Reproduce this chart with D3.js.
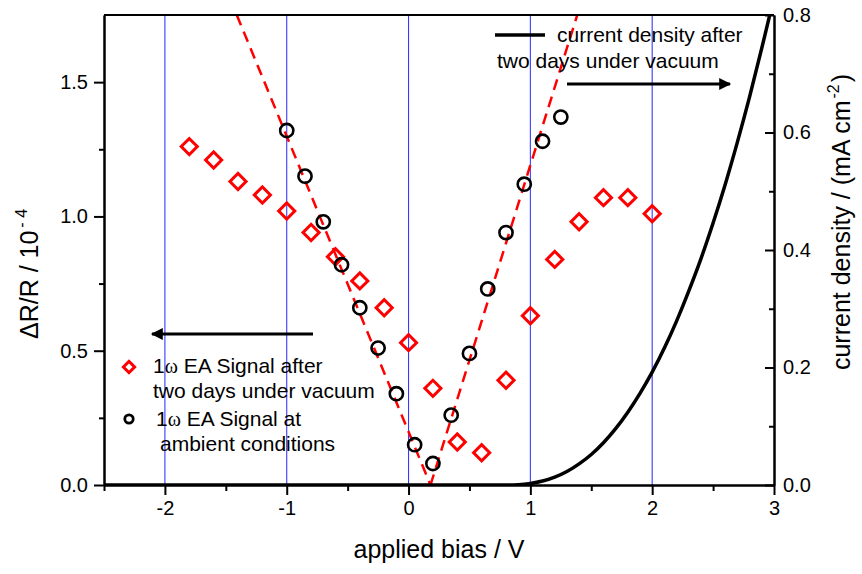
<!DOCTYPE html>
<html>
<head>
<meta charset="utf-8">
<script src="https://cdn.jsdelivr.net/npm/d3@7"></script>
<style>
  body { margin: 0; background: #fff; }
  text { font-family: "Liberation Sans", Arial, sans-serif; fill: #000; }
</style>
</head>
<body>
<svg id="chart" width="862" height="574"></svg>
<script>
// 1ω electroabsorption signal after two days under vacuum (left axis, 10^-4)
const biasVacuum   = [-1.8, -1.6, -1.4, -1.2, -1.0, -0.8, -0.6, -0.4, -0.2, 0.0, 0.2, 0.4, 0.6, 0.8, 1.0, 1.2, 1.4, 1.6, 1.8, 2.0];
const signalVacuum = [1.26, 1.21, 1.13, 1.08, 1.02, 0.94, 0.85, 0.76, 0.66, 0.53, 0.36, 0.16, 0.12, 0.39, 0.63, 0.84, 0.98, 1.07, 1.07, 1.01];

// 1ω electroabsorption signal at ambient conditions (left axis, 10^-4)
const biasAmbient   = [-1.0, -0.85, -0.7, -0.55, -0.4, -0.25, -0.1, 0.05, 0.2, 0.35, 0.5, 0.65, 0.8, 0.95, 1.1, 1.25];
const signalAmbient = [1.32, 1.15, 0.98, 0.82, 0.66, 0.51, 0.34, 0.15, 0.08, 0.26, 0.49, 0.73, 0.94, 1.12, 1.28, 1.37];

// linear fits to the ambient signal on either side of the minimum
const fitLeftBias    = [-1.41, 0.18];
const fitLeftSignal  = [1.75, 0.0];
const fitRightBias   = [0.18, 1.385];
const fitRightSignal = [0.0, 1.75];

// current density after two days under vacuum (right axis, mA cm^-2)
const biasCurrent = [-2.5, 0.8, 0.9, 1.0, 1.1, 1.2, 1.3, 1.4, 1.5, 1.6, 1.7, 1.8, 1.9, 2.0, 2.1, 2.2, 2.3, 2.4, 2.5, 2.6, 2.7, 2.8, 2.9, 2.95, 3.0];
const current     = [0.0, 0.0, 0.0005, 0.0025, 0.0067, 0.0134, 0.023, 0.036, 0.052, 0.072, 0.096, 0.124, 0.156, 0.192, 0.233, 0.279, 0.33, 0.385, 0.446, 0.512, 0.584, 0.661, 0.744, 0.787, 0.83];

// tick values
const xMajorTicks = [-2, -1, 0, 1, 2, 3];
const xMinorTicks = [-2.5, -1.5, -0.5, 0.5, 1.5, 2.5];
const yLeftMajorTicks = [0.0, 0.5, 1.0, 1.5];
const yLeftMinorTicks = [0.25, 0.75, 1.25];
const yRightMajorTicks = [0.0, 0.2, 0.4, 0.6, 0.8];
const yRightMinorTicks = [0.1, 0.3, 0.5, 0.7];
const gridBias = [-2, -1, 0, 1, 2];

const svg = d3.select("#chart");
svg.append("rect").attr("width", 862).attr("height", 574).attr("fill", "#fff");

const L = 104, R = 774, T = 15, B = 485;
const x  = d3.scaleLinear().domain([-2.5, 3]).range([L, R]);
const yL = d3.scaleLinear().domain([0, 1.75]).range([B, T]);
const yR = d3.scaleLinear().domain([0, 0.8]).range([B, T]);

svg.append("defs").append("clipPath").attr("id", "plotClip")
  .append("rect").attr("x", L).attr("y", T).attr("width", R - L).attr("height", B - T);

// blue vertical grid lines
svg.append("g").selectAll("line").data(gridBias).join("line")
  .attr("x1", d => x(d)).attr("x2", d => x(d))
  .attr("y1", T).attr("y2", B)
  .attr("stroke", "#3a3aff").attr("stroke-width", 1.1);

const plot = svg.append("g").attr("clip-path", "url(#plotClip)");

// dashed fit lines
const fitLine = d3.line().x(d => x(d[0])).y(d => yL(d[1]));
[[fitLeftBias, fitLeftSignal], [fitRightBias, fitRightSignal]].forEach(([bx, sy]) => {
  plot.append("path")
    .datum(bx.map((b, i) => [b, sy[i]]))
    .attr("d", fitLine)
    .attr("fill", "none").attr("stroke", "#ff0000")
    .attr("stroke-width", 2.5).attr("stroke-dasharray", "11,7");
});

// current density curve
plot.append("path")
  .datum(biasCurrent.map((b, i) => [b, current[i]]))
  .attr("d", d3.line().curve(d3.curveMonotoneX).x(d => x(d[0])).y(d => yR(d[1])))
  .attr("fill", "none").attr("stroke", "#000").attr("stroke-width", 3.5);

// diamond markers (vacuum)
const diamond = d3.symbol(d3.symbolSquare, 130);
svg.append("g").selectAll("path").data(biasVacuum).join("path")
  .attr("d", diamond)
  .attr("transform", (d, i) => `translate(${x(d)},${yL(signalVacuum[i])}) rotate(45)`)
  .attr("fill", "none").attr("stroke", "#ff0000").attr("stroke-width", 3);

// circle markers (ambient)
svg.append("g").selectAll("circle").data(biasAmbient).join("circle")
  .attr("cx", d => x(d)).attr("cy", (d, i) => yL(signalAmbient[i]))
  .attr("r", 6.6)
  .attr("fill", "none").attr("stroke", "#000").attr("stroke-width", 2.6);

// axes
function styleAxis(g) {
  g.selectAll("path.domain").attr("stroke", "#000").attr("stroke-width", 2);
  g.selectAll(".tick line").attr("stroke", "#000").attr("stroke-width", 2);
  g.selectAll(".tick text").style("font-size", "20px")
    .style("font-family", '"Liberation Sans", Arial, sans-serif').attr("fill", "#000");
}

const xAxis = svg.append("g").attr("transform", `translate(0,${B})`)
  .call(d3.axisBottom(x).tickValues(xMajorTicks).tickSizeInner(10).tickSizeOuter(0)
    .tickPadding(6).tickFormat(d => String(d)));
styleAxis(xAxis);
const xMinor = svg.append("g").attr("transform", `translate(0,${B})`)
  .call(d3.axisBottom(x).tickValues(xMinorTicks).tickSizeInner(6).tickSizeOuter(0).tickFormat(""));
styleAxis(xMinor);

const yAxisL = svg.append("g").attr("transform", `translate(${L},0)`)
  .call(d3.axisLeft(yL).tickValues(yLeftMajorTicks).tickSizeInner(10).tickSizeOuter(0)
    .tickPadding(6).tickFormat(d3.format(".1f")));
styleAxis(yAxisL);
const yMinorL = svg.append("g").attr("transform", `translate(${L},0)`)
  .call(d3.axisLeft(yL).tickValues(yLeftMinorTicks).tickSizeInner(5).tickSizeOuter(0).tickFormat(""));
styleAxis(yMinorL);

const yAxisR = svg.append("g").attr("transform", `translate(${R},0)`)
  .call(d3.axisRight(yR).tickValues(yRightMajorTicks).tickSizeInner(-9).tickSizeOuter(0)
    .tickPadding(9).tickFormat(d3.format(".1f")));
styleAxis(yAxisR);
const yMinorR = svg.append("g").attr("transform", `translate(${R},0)`)
  .call(d3.axisRight(yR).tickValues(yRightMinorTicks).tickSizeInner(-5).tickSizeOuter(0).tickFormat(""));
styleAxis(yMinorR);

// top frame line
svg.append("line").attr("x1", L).attr("x2", R).attr("y1", T).attr("y2", T)
  .attr("stroke", "#000").attr("stroke-width", 2);

// axis titles
svg.append("text").attr("x", (L + R) / 2).attr("y", 558)
  .attr("text-anchor", "middle").style("font-size", "25px").text("applied bias / V");

const tL = svg.append("text").attr("transform", "translate(38,274) rotate(-90)")
  .attr("text-anchor", "middle").style("font-size", "25px");
tL.append("tspan").text("ΔR/R / 10");
tL.append("tspan").attr("dy", -11).attr("dx", 3).style("font-size", "16px").text("- 4");

const tR = svg.append("text").attr("transform", "translate(850,222) rotate(-90)")
  .attr("text-anchor", "middle").style("font-size", "25px");
tR.append("tspan").text("current density / (mA cm");
tR.append("tspan").attr("dy", -11).attr("dx", 2).style("font-size", "16px").text("-2");
tR.append("tspan").attr("dy", 11).attr("dx", 2).text(")");

// arrows pointing to the relevant axis
const defs = svg.select("defs");
defs.append("marker").attr("id", "arrowHead")
  .attr("viewBox", "0 0 10 10").attr("refX", 9).attr("refY", 5)
  .attr("markerWidth", 5).attr("markerHeight", 4).attr("markerUnits", "strokeWidth")
  .attr("orient", "auto")
  .append("path").attr("d", "M0,0 L10,5 L0,10 Z").attr("fill", "#000");

svg.append("line").attr("x1", 313).attr("y1", 334).attr("x2", 152).attr("y2", 334)
  .attr("stroke", "#000").attr("stroke-width", 3).attr("marker-end", "url(#arrowHead)");
svg.append("line").attr("x1", 567).attr("y1", 84).attr("x2", 730).attr("y2", 84)
  .attr("stroke", "#000").attr("stroke-width", 3).attr("marker-end", "url(#arrowHead)");

// legend: current density
svg.append("line").attr("x1", 495).attr("x2", 545).attr("y1", 35).attr("y2", 35)
  .attr("stroke", "#000").attr("stroke-width", 3.5);
svg.append("text").attr("x", 557).attr("y", 42).style("font-size", "21px").text("current density after");
svg.append("text").attr("x", 497).attr("y", 68).style("font-size", "21px").text("two days under vacuum");

// legend: EA signals
svg.append("path").attr("d", d3.symbol(d3.symbolSquare, 64))
  .attr("transform", "translate(129,367) rotate(45)")
  .attr("fill", "none").attr("stroke", "#ff0000").attr("stroke-width", 3);
svg.append("circle").attr("cx", 129).attr("cy", 419).attr("r", 4.2)
  .attr("fill", "none").attr("stroke", "#000").attr("stroke-width", 2.8);

function legendLine(xp, yp, parts) {
  const t = svg.append("text").attr("x", xp).attr("y", yp).style("font-size", "21px");
  parts.forEach(p => {
    const s = t.append("tspan").text(p.text);
    if (p.small) s.style("font-size", "20px").style("font-family", '"Liberation Serif", serif');
  });
}
legendLine(153, 373, [{text: "1"}, {text: "ω", small: true}, {text: " EA Signal after"}]);
legendLine(153, 398, [{text: "two days under vacuum"}]);
legendLine(156, 426, [{text: "1"}, {text: "ω", small: true}, {text: " EA Signal at"}]);
legendLine(160, 451, [{text: "ambient conditions"}]);
</script>
</body>
</html>
